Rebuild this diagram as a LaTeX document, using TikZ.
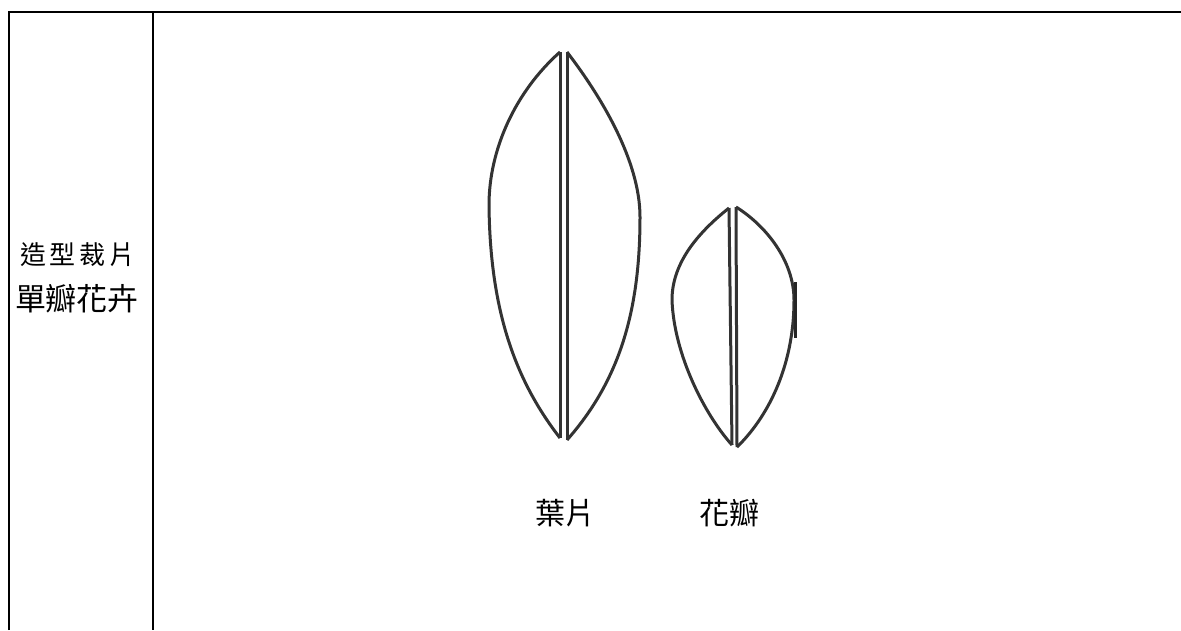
\documentclass[tikz,border=0pt]{standalone}
\usepackage{fontspec}
\newfontfamily\cjk{Noto Sans CJK TC}
\tikzset{
  rule/.style={draw=black, line width=2pt},
  outline/.style={draw=black!80, line width=3pt, line join=miter},
  label/.style={font=\cjk\fontsize{30}{30}\selectfont, inner sep=0pt, text=black},
}
\begin{document}
\begin{tikzpicture}[x=1pt,y=-1pt]
\useasboundingbox[fill=white] (0,0) rectangle (1181,630);
% table frame
\coordinate (tl) at (9,12);
\coordinate (tm) at (153,12);
\coordinate (tr) at (1181,12);
\coordinate (bl) at (9,630);
\coordinate (bm) at (153,630);
\draw[rule] (bl) -- (tl) -- (tr);
\draw[rule] (tm) -- (bm);
% left cell text
\node[label, font=\cjk\fontsize{26}{26}\selectfont] (t1) at (78,255) {造\hspace{4pt}型\hspace{4pt}裁\hspace{4pt}片};
\node[label, font=\cjk\fontsize{31}{31}\selectfont] (t2) at (77,299) {單瓣花卉};
% leaf
\draw[outline] (560,52) .. controls (515,92) and (489,150) .. (489,205)
  .. controls (490,310) and (515,380) .. (560,438);
\draw[outline] (560,52) -- (560,438);
\draw[outline] (567,52) -- (567,440);
\draw[outline] (567,52) .. controls (600,95) and (640,160) .. (640,217)
  .. controls (640,310) and (620,380) .. (567,440);
% petal
\draw[outline] (729,208) .. controls (695,235) and (672,265) .. (672,300)
  .. controls (674,355) and (705,415) .. (732,445);
\draw[outline] (729,208) -- (732,445);
\draw[outline] (736,207) -- (737,447);
\begin{scope}
\clip (600,150) rectangle (795,470);
\draw[outline] (736,207) .. controls (765,225) and (794,260) .. (794,300)
  .. controls (794,370) and (765,420) .. (737,447);
\end{scope}
\draw[black!85, line width=3pt] (795,282) -- (795,338);
% labels
\node[label] (l1) at (565,513) {葉片};
\node[label] (l2) at (729,513) {花瓣};
\end{tikzpicture}
\end{document}
